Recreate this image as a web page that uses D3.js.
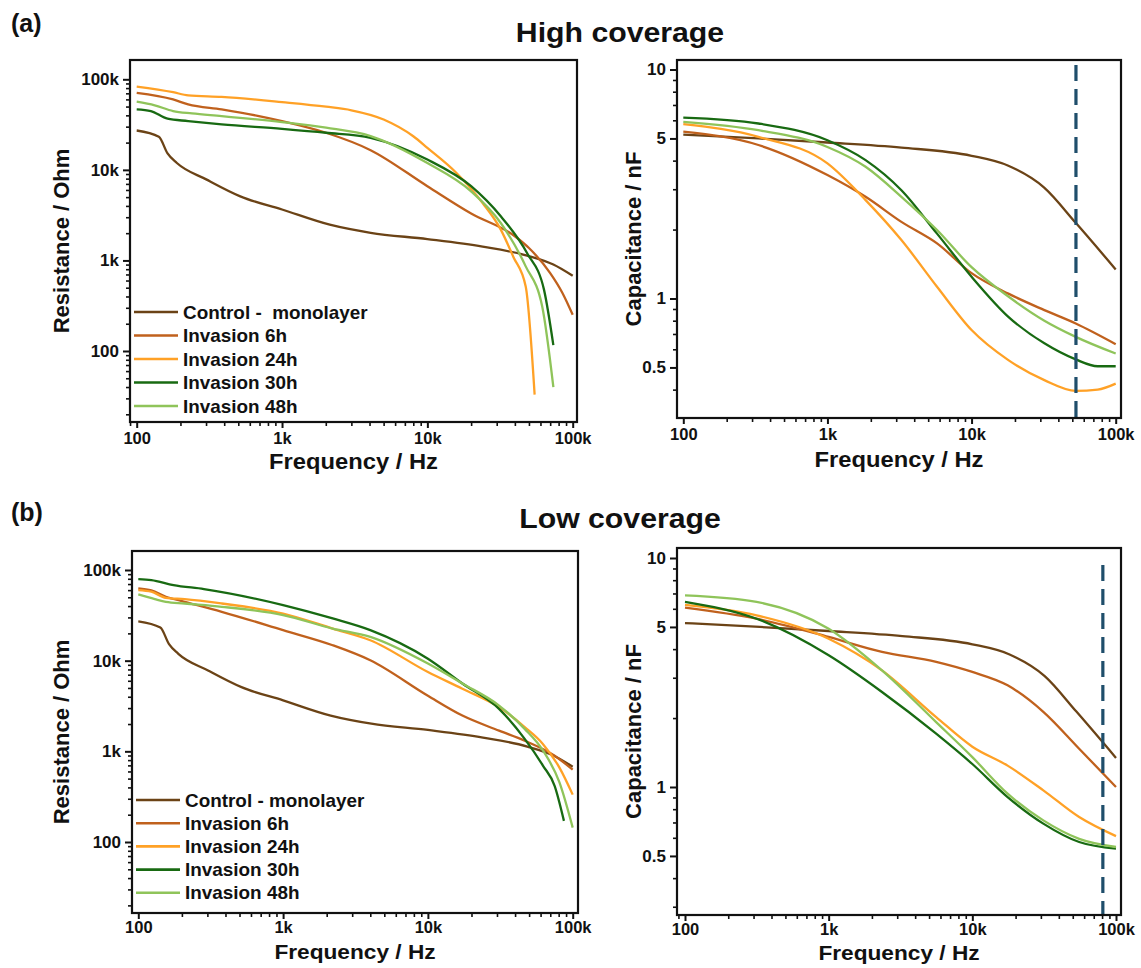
<!DOCTYPE html>
<html><head><meta charset="utf-8">
<script src="https://cdn.jsdelivr.net/npm/d3@7"></script>
<style>
html,body{margin:0;padding:0;background:#fff;}
text{font-family:"Liberation Sans",Arial,sans-serif;font-weight:bold;fill:#111;}
</style></head>
<body><svg id="c" width="1141" height="968"></svg>
<script>
// ---------- DATA ----------
const seriesNames = ["Control - monolayer","Invasion 6h","Invasion 24h","Invasion 30h","Invasion 48h"];
const legendTop = ["Control -  monolayer","Invasion 6h","Invasion 24h","Invasion 30h","Invasion 48h"];
const seriesColors = ["#6b4316","#c0611d","#ffa126","#186a12","#8fc45a"];
const freqTicks = [100, 1000, 10000, 100000];
const freqTickLabels = ["100","1k","10k","100k"];
const resTicks = [100, 1000, 10000, 100000];
const resTickLabels = ["100","1k","10k","100k"];
const capTicks = [0.5, 1, 5, 10];
const capTickLabels = ["0.5","1","5","10"];

// Resistance (Ohm) vs frequency (Hz), [f, R]
const resControl = [[100,27200],[142,23200],[163,15200],[189,11900],[303,7800],[516,5100],[1000,3650],[2130,2480],[4070,2020],[10000,1720],[24000,1420],[48600,1130],[73600,900],[100000,676]];
// High coverage
const hiRes6h  = [[100,71000],[178,60000],[226,52800],[384,46500],[693,39300],[1000,34600],[2010,25700],[4070,16500],[10000,6600],[20000,3300],[40000,1850],[50000,1370],[70000,724],[85000,437],[100000,251]];
const hiRes24h = [[100,83000],[178,72000],[226,66500],[384,64000],[1000,56000],[2010,49800],[3000,45500],[5000,36000],[8000,23500],[10000,17500],[15800,9300],[24000,4300],[32000,2190],[39000,1100],[47500,515],[54700,33]];
const hiRes30h = [[100,46600],[125,44600],[163,36700],[226,34600],[384,31800],[1000,28400],[2010,25700],[4070,22600],[10000,13000],[20000,6600],[32000,3070],[48600,1200],[63500,473],[73600,116]];
const hiRes48h = [[100,56600],[133,51600],[178,44600],[240,42000],[384,39300],[1000,33700],[2010,29200],[4070,23600],[10000,11900],[20000,5800],[32000,2590],[47500,860],[61700,310],[73600,40]];
// Low coverage
const loRes6h  = [[100,62700],[123,59600],[155,50700],[209,44600],[377,34600],[1000,21700],[2200,14800],[4000,10100],[10000,4100],[17300,2480],[31000,1690],[46600,1310],[75000,895],[100000,627]];
const loRes24h = [[100,60000],[123,57600],[155,49400],[209,47800],[377,42700],[1000,33100],[2200,22600],[4000,16800],[10000,7500],[17300,4900],[31000,3070],[46600,1850],[62400,1200],[81000,661],[100000,333]];
const loRes30h = [[100,79400],[123,77500],[175,68200],[284,61600],[1000,41000],[2200,29200],[4000,21700],[10000,10500],[17300,5600],[31000,2940],[46600,1370],[62400,693],[75000,417],[87000,171]];
const loRes48h = [[100,53800],[130,47800],[155,44600],[209,42700],[377,39300],[1000,31800],[2200,22600],[4000,18300],[10000,9300],[17300,5600],[31000,3200],[46600,1770],[62400,1020],[81000,454],[100000,144]];

// Capacitance (nF) vs frequency (Hz), [f, C]
const capControl = [[100,5.2],[332,5.0],[1000,4.8],[3260,4.56],[10000,4.2],[18000,3.8],[31900,3.05],[52800,2.14],[100000,1.34]];
const hiCap6h  = [[100,5.35],[332,4.68],[1000,3.46],[1840,2.78],[3260,2.16],[5760,1.74],[10000,1.29],[18000,1.05],[32000,0.89],[52800,0.778],[100000,0.632]];
const hiCap24h = [[100,5.77],[332,5.08],[1000,3.89],[1840,2.69],[3260,1.8],[5760,1.125],[10000,0.728],[18000,0.538],[32000,0.44],[52800,0.395],[75000,0.40],[100000,0.425]];
const hiCap30h = [[100,6.17],[332,5.81],[1000,4.91],[1840,4.02],[3260,2.97],[5760,1.92],[10000,1.245],[18000,0.832],[32000,0.637],[52800,0.542],[75000,0.506],[100000,0.506]];
const hiCap48h = [[100,5.91],[332,5.43],[1000,4.59],[1840,3.76],[3260,2.78],[5760,1.99],[10000,1.37],[18000,1.02],[32000,0.8],[52800,0.68],[100000,0.575]];
const loCap6h  = [[100,6.07],[315,5.43],[1000,4.52],[2350,3.89],[5600,3.52],[10000,3.18],[17600,2.78],[31200,2.13],[55400,1.47],[100000,1.0]];
const loCap24h = [[100,6.24],[315,5.62],[1000,4.44],[2350,3.23],[5600,2.02],[10000,1.5],[17600,1.24],[31200,0.967],[55400,0.739],[100000,0.61]];
const loCap30h = [[100,6.43],[315,5.43],[1000,3.76],[2350,2.6],[5600,1.71],[10000,1.26],[17600,0.904],[31200,0.692],[55400,0.575],[100000,0.538]];
const loCap48h = [[100,6.87],[315,6.43],[1000,4.91],[2350,3.23],[5600,1.92],[10000,1.35],[17600,0.935],[31200,0.715],[55400,0.594],[100000,0.547]];

const hiMarkerFreq = 53000;
const loMarkerFreq = 81000;

// ---------- DRAW ----------
const svg = d3.select("#c");
const FONT = "'Liberation Sans',Arial,sans-serif";

function stretchText(sel, x, y, size, sx, anchor, txt){
  return sel.append("text").attr("transform",`translate(${x},${y}) scale(${sx},1)`)
    .attr("text-anchor",anchor||"start").style("font-size",size+"px").style("white-space","pre").text(txt);
}

function panel(o){
  const g = svg.append("g");
  const x0 = d3.scaleLog().domain([100,1e5]).range(o.xr);
  const y0 = d3.scaleLog().domain(o.yd).range(o.yr);
  const x = d3.scaleLog().domain([x0.invert(o.L), x0.invert(o.R)]).range([o.L,o.R]);
  const y = d3.scaleLog().domain([y0.invert(o.B), y0.invert(o.T)]).range([o.B,o.T]);
  const cid = "clip"+Math.round(o.L)+"_"+Math.round(o.T);
  svg.append("clipPath").attr("id",cid).append("rect").attr("x",o.L).attr("y",o.T).attr("width",o.R-o.L).attr("height",o.B-o.T);

  // minor ticks
  const xMinor = x.ticks().filter(v=>freqTicks.indexOf(v)<0);
  const yMinor = y.ticks().filter(v=>o.yTicks.indexOf(v)<0);
  g.append("g").attr("transform",`translate(0,${o.B})`)
    .call(d3.axisBottom(x).tickValues(xMinor).tickSize(4).tickFormat(""))
    .call(a=>a.select(".domain").remove()).selectAll("line").attr("stroke","#111").attr("stroke-width",1.6);
  g.append("g").attr("transform",`translate(${o.L},0)`)
    .call(d3.axisLeft(y).tickValues(yMinor).tickSize(4).tickFormat(""))
    .call(a=>a.select(".domain").remove()).selectAll("line").attr("stroke","#111").attr("stroke-width",1.6);
  // major ticks
  const xa = g.append("g").attr("transform",`translate(0,${o.B})`)
    .call(d3.axisBottom(x).tickValues(freqTicks).tickSize(6).tickPadding(o.xPad).tickFormat((d,i)=>freqTickLabels[i]));
  xa.select(".domain").remove();
  xa.selectAll("line").attr("stroke","#111").attr("stroke-width",2);
  xa.selectAll("text").style("font-size","16.5px").style("font-family",FONT).style("font-weight","bold").attr("fill","#111");
  const ya = g.append("g").attr("transform",`translate(${o.L},0)`)
    .call(d3.axisLeft(y).tickValues(o.yTicks).tickSize(7).tickPadding(4).tickFormat((d,i)=>o.yLabels[i]));
  ya.select(".domain").remove();
  ya.selectAll("line").attr("stroke","#111").attr("stroke-width",2);
  ya.selectAll("text").style("font-size","17px").style("font-family",FONT).style("font-weight","bold").attr("fill","#111");

  // lines
  const line = d3.line().x(d=>x(d[0])).y(d=>y(d[1])).curve(d3.curveMonotoneX);
  const lg = g.append("g").attr("clip-path",`url(#${cid})`);
  o.series.forEach((s,i)=>{
    lg.append("path").datum(s).attr("d",line).attr("fill","none")
      .attr("stroke",seriesColors[i]).attr("stroke-width",2.3).attr("stroke-linejoin","round");
  });
  if(o.marker){
    lg.append("line").attr("x1",x(o.marker)).attr("x2",x(o.marker))
      .attr("y1",o.T+o.markerTop).attr("y2",o.B)
      .attr("stroke","#1f4e6b").attr("stroke-width",3.2).attr("stroke-dasharray","16,8");
  }
  // frame
  g.append("rect").attr("x",o.L).attr("y",o.T).attr("width",o.R-o.L).attr("height",o.B-o.T)
    .attr("fill","none").attr("stroke","#111").attr("stroke-width",2.2);

  // titles
  stretchText(g,(o.L+o.R)/2,o.B+o.xtDy,o.xtSize,1.08,"middle","Frequency / Hz");
  g.append("text").attr("transform",`translate(${o.ytX},${(o.T+o.B)/2}) rotate(-90)`)
    .attr("text-anchor","middle").style("font-size","22px").text(o.yTitle);

  // legend
  if(o.legend){
    const lgd = g.append("g");
    o.legend.forEach((t,i)=>{
      const yy = o.legY + i*o.legDy;
      lgd.append("line").attr("x1",o.legX).attr("x2",o.legX+44).attr("y1",yy).attr("y2",yy)
        .attr("stroke",seriesColors[i]).attr("stroke-width",2.6);
      stretchText(lgd,o.legX+49,yy+6.5,17.5,1.08,"start",t);
    });
  }
}

panel({L:130,R:577,T:60,B:422,xr:[136.7,572.7],yd:[100,1e5],yr:[351,79.3],
  yTicks:resTicks,yLabels:resTickLabels,yTitle:"Resistance / Ohm",ytX:69,xtDy:47,xtSize:22,xPad:4,
  series:[resControl,hiRes6h,hiRes24h,hiRes30h,hiRes48h],
  legend:legendTop,legX:134,legY:312,legDy:23.5});
panel({L:677,R:1121,T:60,B:418,xr:[683.3,1115.7],yd:[1,10],yr:[298.5,69.5],
  yTicks:capTicks,yLabels:capTickLabels,yTitle:"Capacitance / nF",ytX:641,xtDy:49,xtSize:22,xPad:4,
  series:[capControl,hiCap6h,hiCap24h,hiCap30h,hiCap48h],
  marker:hiMarkerFreq,markerTop:5});
panel({L:132,R:578,T:551,B:913,xr:[138.3,572.7],yd:[100,1e5],yr:[842,570],
  yTicks:resTicks,yLabels:resTickLabels,yTitle:"Resistance / Ohm",ytX:69,xtDy:46,xtSize:21,xPad:2,
  series:[resControl,loRes6h,loRes24h,loRes30h,loRes48h],
  legend:seriesNames,legX:136,legY:800,legDy:23.2});
panel({L:677,R:1121,T:548,B:915,xr:[685,1116],yd:[1,10],yr:[787,558],
  yTicks:capTicks,yLabels:capTickLabels,yTitle:"Capacitance / nF",ytX:641,xtDy:45,xtSize:21,xPad:2,
  series:[capControl,loCap6h,loCap24h,loCap30h,loCap48h],
  marker:loMarkerFreq,markerTop:17});

// headings
svg.append("text").attr("x",11).attr("y",32).style("font-size","25px").text("(a)");
stretchText(svg,620,42,28,1.08,"middle","High coverage");
svg.append("text").attr("x",11).attr("y",521).style("font-size","25px").text("(b)");
stretchText(svg,620,528,28,1.08,"middle","Low coverage");
</script></body></html>
